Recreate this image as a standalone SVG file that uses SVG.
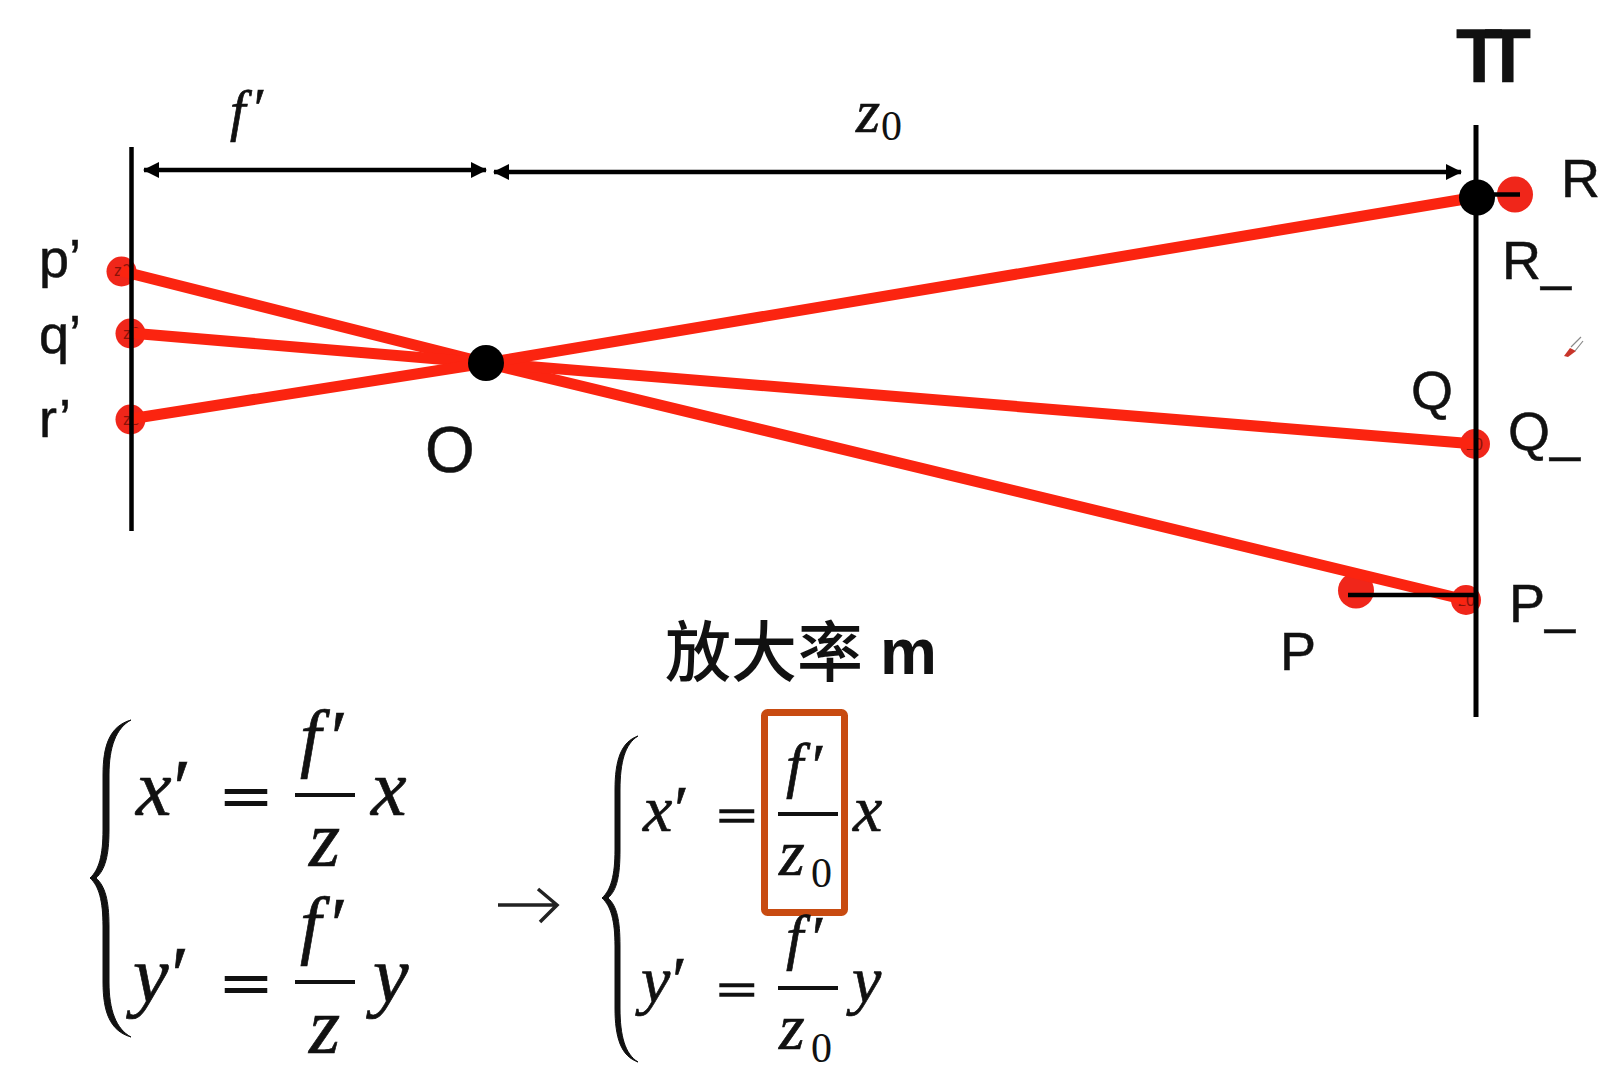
<svg xmlns="http://www.w3.org/2000/svg" width="1613" height="1088" viewBox="0 0 1613 1088">
<style>
.l{font-family:"Liberation Sans",Arial,sans-serif;font-size:54px;fill:#111;stroke:#111;stroke-width:.5}
.m{font-family:"Liberation Serif","Times New Roman",serif;font-style:italic;fill:#111;stroke:#111;stroke-width:.7}
.n{font-family:"Liberation Serif","Times New Roman",serif;fill:#111}
.e{font-family:"Liberation Serif","Times New Roman",serif;fill:#111;stroke:#111;stroke-width:3}
.s{font-family:"Liberation Sans",Arial,sans-serif;font-size:16px;fill:#8a1208}
.ray{stroke:#fb2410;stroke-width:11;fill:none}
.blk{stroke:#000;fill:none}
.dot{fill:#f0261a}
.bar{stroke:#111;stroke-width:4;fill:none}
</style>
<defs>
<marker id="h" viewBox="0 0 16 16" refX="15" refY="8" markerWidth="16" markerHeight="16" markerUnits="userSpaceOnUse" orient="auto-start-reverse"><path d="M0 0L16 8L0 16Z" fill="#000"/></marker>
</defs>
<rect width="1613" height="1088" fill="#fff"/>
<g id="dots-back">
<g id="node-pp"><circle class="dot" cx="121.5" cy="271.5" r="15"/><text class="s" x="114" y="276">z0</text></g>
<g id="node-qp"><circle class="dot" cx="130.5" cy="333.5" r="15"/><text class="s" x="123" y="339">z0</text></g>
<g id="node-rp"><circle class="dot" cx="130.5" cy="419.5" r="15"/><text class="s" x="123" y="425">z0</text></g>
<g id="node-Q_"><circle class="dot" cx="1475" cy="444" r="15"/><text class="s" x="1466" y="450">z0</text></g>
<g id="node-P_"><circle class="dot" cx="1466" cy="600" r="15"/><text class="s" x="1458" y="606">z0</text></g>
<g id="node-P"><circle class="dot" cx="1356" cy="590.5" r="18"/></g>
<g id="node-R"><circle class="dot" cx="1515" cy="194.5" r="18"/></g>
</g>
<g id="connectors">
<path class="ray" d="M121 271L486 363L1466 600"/>
<path class="ray" d="M130 333L486 363L1475 444"/>
<path class="ray" d="M130 419L486 363L1477 197"/>
<line class="blk" stroke-width="4.5" x1="131.5" y1="147" x2="131.5" y2="531"/>
<line class="blk" stroke-width="5" x1="1476" y1="125" x2="1476" y2="717"/>
<line class="blk" stroke-width="4.5" x1="1348" y1="595" x2="1476" y2="595"/>
<line class="blk" stroke-width="4.5" x1="1477" y1="194.5" x2="1520" y2="194.5"/>
<line class="blk" stroke-width="4.5" x1="144" y1="170" x2="486" y2="170" marker-start="url(#h)" marker-end="url(#h)"/>
<line class="blk" stroke-width="4.5" x1="494" y1="172" x2="1461" y2="172" marker-start="url(#h)" marker-end="url(#h)"/>
<path d="M498 905H556M538 889L557 905L540 922" fill="none" stroke="#222" stroke-width="3.5"/>
</g>
<g id="node-O"><circle cx="486" cy="363" r="18"/><text class="l" style="font-size:64px" x="425" y="472">O</text></g>
<g id="node-R_dot"><circle cx="1477" cy="197.5" r="18"/></g>
<g id="labels">
<text class="l" style="font-weight:700;font-size:76px;letter-spacing:-18px" x="1456" y="82">TT</text>
<text class="l" x="39" y="277">p’</text>
<text class="l" x="39" y="353">q’</text>
<text class="l" x="39" y="437">r’</text>
<text class="l" x="1561" y="197">R</text>
<text class="l" x="1502" y="279">R_</text>
<text class="l" x="1411" y="409">Q</text>
<text class="l" x="1508" y="450">Q_</text>
<text class="l" x="1509" y="622">P_</text>
<text class="l" x="1280" y="670">P</text>
<text class="m" font-size="56" x="230" y="130">f<tspan dx="5" dy="-2">′</tspan></text>
<text class="m" font-size="62" x="856" y="132">z</text>
<text class="n" font-size="42" x="881" y="140">0</text>
<text x="665" y="676" style="font-family:'Noto Sans CJK SC','Noto Sans CJK JP',sans-serif;font-size:66px;font-weight:500;fill:#111">放大率</text>
<text x="880" y="674" style="font-family:'Liberation Sans',sans-serif;font-size:64px;font-weight:700;fill:#111">m</text>
</g>
<g id="eq-left">
<path d="M131 720C110 726 103 745 103 775V830C103 855 99 870 90 878C99 886 103 901 103 926V982C103 1012 110 1031 131 1037C116 1029 109 1010 109 982V926C109 900 105 886 96 878C105 870 109 856 109 830V775C109 747 116 728 131 720Z" fill="#111" stroke="#111" stroke-width="1"/>
<text class="m" font-size="80" x="136" y="815">x<tspan dx="-3">′</tspan></text>
<text class="e" font-size="85" transform="translate(222 817) scale(1 .7)">=</text>
<text class="m" font-size="76" x="300" y="763">f<tspan dx="5">′</tspan></text>
<line class="bar" stroke-width="4.5" x1="295" y1="795" x2="355" y2="795"/>
<text class="m" font-size="80" x="309" y="866">z</text>
<text class="m" font-size="80" x="371" y="815">x</text>
<text class="m" font-size="80" x="133" y="1002">y<tspan dx="-2">′</tspan></text>
<text class="e" font-size="85" transform="translate(222 1004) scale(1 .7)">=</text>
<text class="m" font-size="76" x="300" y="950">f<tspan dx="5">′</tspan></text>
<line class="bar" stroke-width="4.5" x1="295" y1="982" x2="355" y2="982"/>
<text class="m" font-size="80" x="309" y="1053">z</text>
<text class="m" font-size="80" x="373" y="1002">y</text>
</g>
<g id="eq-right">
<path d="M638 736C621 742 615 760 615 790V850C615 875 611 890 602 898C611 906 615 921 615 946V1008C615 1038 621 1056 638 1062C625 1054 620 1036 620 1008V946C620 920 617 906 608 898C617 890 620 876 620 850V790C620 762 625 744 638 736Z" fill="#111" stroke="#111" stroke-width="1"/>
<text class="m" font-size="66" x="643" y="831">x<tspan dx="-2">′</tspan></text>
<text class="e" font-size="70" style="stroke-width:2.4" transform="translate(717 832) scale(1 .68)">=</text>
<rect x="764.5" y="712.5" width="80" height="200" rx="3" fill="none" stroke="#c84b11" stroke-width="7"/>
<text class="m" font-size="62" x="786" y="786">f<tspan dx="5">′</tspan></text>
<line class="bar" x1="778" y1="814" x2="838" y2="814"/>
<text class="m" font-size="66" x="779" y="875">z</text>
<text class="n" font-size="42" x="811" y="887">0</text>
<text class="m" font-size="66" x="853" y="831">x</text>
<text class="m" font-size="66" x="641" y="1002">y<tspan dx="-2">′</tspan></text>
<text class="e" font-size="70" style="stroke-width:2.4" transform="translate(717 1006) scale(1 .68)">=</text>
<text class="m" font-size="62" x="786" y="958">f<tspan dx="5">′</tspan></text>
<line class="bar" x1="778" y1="988" x2="838" y2="988"/>
<text class="m" font-size="66" x="779" y="1049">z</text>
<text class="n" font-size="42" x="811" y="1062">0</text>
<text class="m" font-size="66" x="852" y="1002">y</text>
</g>
<g id="pen"><path d="M1564 356L1570 348L1576 351L1568 357Z" fill="#c8352a"/><path d="M1571 347L1581 337M1575 351L1583 341" stroke="#888" stroke-width="1.2" fill="none"/></g>
</svg>
